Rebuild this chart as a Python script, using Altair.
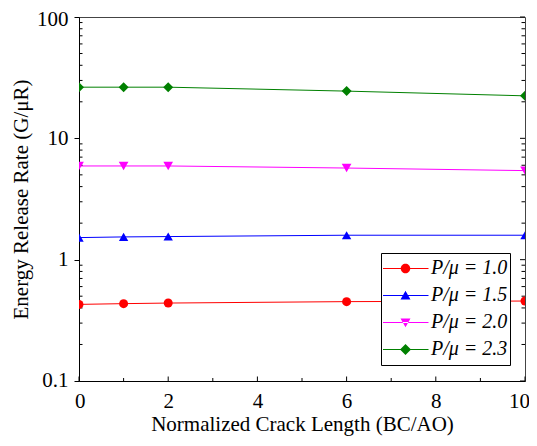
import altair as alt
import pandas as pd

# ---- data ----
crack_length = [0, 1, 2, 6, 10]
series_names = ["P/μ = 1.0", "P/μ = 1.5", "P/μ = 2.0", "P/μ = 2.3"]
g_p10 = [0.428, 0.434, 0.439, 0.451, 0.456]
g_p15 = [1.52, 1.54, 1.55, 1.59, 1.59]
g_p20 = [5.92, 5.92, 5.92, 5.69, 5.42]
g_p23 = [26.4, 26.4, 26.4, 24.5, 22.4]

x_major = [0, 2, 4, 6, 8, 10]
x_minor = [1, 3, 5, 7, 9]
y_major = [0.1, 1, 10, 100]
y_minor = [0.2, 0.3, 0.4, 0.5, 0.6, 0.7, 0.8, 0.9,
           2, 3, 4, 5, 6, 7, 8, 9,
           20, 30, 40, 50, 60, 70, 80, 90]

colors = ["#ff0000", "#0000ff", "#ff00ff", "#008000"]
shapes = ["circle", "triangle-up", "triangle-down", "diamond"]
marker_sizes = [81, 100, 100, 125]

rows = []
for name, vals in zip(series_names, [g_p10, g_p15, g_p20, g_p23]):
    for xv, gv in zip(crack_length, vals):
        rows.append({"x": xv, "g": gv, "series": name,
                     "line_key": name, "marker_key": name})
df = pd.DataFrame(rows)

W, H = 446, 364
SERIF = "'Liberation Serif', 'Times New Roman', Times, 'DejaVu Serif', serif"

x_scale = alt.Scale(domain=[0, 10], nice=False, zero=False)
y_scale = alt.Scale(type="log", domain=[0.1, 100], nice=False)
color_scale = alt.Scale(domain=series_names, range=colors)
stroke_scale = alt.Scale(range=colors)
shape_scale = alt.Scale(range=shapes)
size_scale = alt.Scale(range=marker_sizes)

# legend symbols: thin filled bar (the line) + marker; unit = 5px with size 100
seg = "M-4.6,-0.1L4.6,-0.1L4.6,0.1L-4.6,0.1Z"
marker_paths = [
    "M0.95,0A0.95,0.95 0 1,1 -0.95,0A0.95,0.95 0 1,1 0.95,0Z",
    "M0,-0.95L1.0,0.8L-1.0,0.8Z",
    "M0,0.95L1.0,-0.8L-1.0,-0.8Z",
    "M0,-1.1L1.1,0L0,1.1L-1.1,0Z",
]
expr = "'" + seg + marker_paths[-1] + "'"
for name, mp in reversed(list(zip(series_names[:-1], marker_paths[:-1]))):
    expr = f"datum.value === '{name}' ? '{seg}{mp}' : ({expr})"

legend = alt.Legend(
    title=None, orient="none", legendX=302, legendY=236, direction="vertical",
    fillColor="white", strokeColor="black", padding=2,
    symbolType={"expr": expr}, symbolSize=100, symbolStrokeWidth=0,
    symbolOffset=12.5, labelOffset=15.5,
    clipHeight=26.8, rowPadding=0,
    labelFont=SERIF, labelFontSize=20, labelFontStyle="italic",
    labelColor="black", labelLimit=300,
)

base = alt.Chart(df)

lines = base.mark_line(strokeWidth=1, clip=True).encode(
    x=alt.X("x:Q", scale=x_scale, axis=alt.Axis(
        orient="bottom", title="Normalized Crack Length (BC/AO)", values=x_major,
        ticks=False, labelPadding=9, titlePadding=2, format="d",
        labelFlush=True, labelFlushOffset=4.5)),
    y=alt.Y("g:Q", scale=y_scale, axis=alt.Axis(
        orient="left", title="Energy Release Rate (G/μR)", values=y_major,
        tickSize=5, labelPadding=6, titlePadding=5, format="~g",
        labelFlush=True, labelFlushOffset=9)),
    stroke=alt.Stroke("line_key:N", scale=stroke_scale, legend=None),
)

points = base.mark_point(filled=True, opacity=1, clip=True).encode(
    x=alt.X("x:Q", scale=x_scale),
    y=alt.Y("g:Q", scale=y_scale),
    color=alt.Color("series:N", scale=color_scale, legend=legend),
    shape=alt.Shape("marker_key:N", scale=shape_scale, legend=None),
    size=alt.Size("marker_key:O", scale=size_scale, legend=None),
)

# inward tick marks (minor on the left, all on the right, all along the bottom)
tick_rule = dict(color="black", strokeWidth=1)
left_minor = alt.Chart(pd.DataFrame({"v": y_minor})).mark_rule(**tick_rule).encode(
    y=alt.Y("v:Q", scale=y_scale), x=alt.value(0), x2=alt.value(3.5))
right_minor = alt.Chart(pd.DataFrame({"v": y_minor})).mark_rule(**tick_rule).encode(
    y=alt.Y("v:Q", scale=y_scale), x=alt.value(W - 3.5), x2=alt.value(W))
right_major = alt.Chart(pd.DataFrame({"v": y_major})).mark_rule(**tick_rule).encode(
    y=alt.Y("v:Q", scale=y_scale), x=alt.value(W - 5), x2=alt.value(W))
bottom_major = alt.Chart(pd.DataFrame({"v": x_major})).mark_rule(**tick_rule).encode(
    x=alt.X("v:Q", scale=x_scale), y=alt.value(H - 4.5), y2=alt.value(H))
bottom_minor = alt.Chart(pd.DataFrame({"v": x_minor})).mark_rule(**tick_rule).encode(
    x=alt.X("v:Q", scale=x_scale), y=alt.value(H - 3), y2=alt.value(H))

chart = alt.layer(
    lines, left_minor, right_minor, right_major, bottom_major, bottom_minor, points
).properties(
    width=W, height=H,
    autosize=alt.AutoSizeParams(type="none"),
    padding={"left": 71, "top": 9, "right": 4, "bottom": 57},
    background="white",
).configure_view(
    stroke="#444", strokeWidth=1
).configure_axis(
    labelFont=SERIF, labelFontSize=21, labelColor="black",
    titleFont=SERIF, titleFontSize=21, titleFontWeight="normal", titleColor="black",
    domainColor="black", tickColor="black", domainWidth=1, tickWidth=1, grid=False,
)

chart.save("out.html", embed_options={"renderer": "svg", "actions": False})
